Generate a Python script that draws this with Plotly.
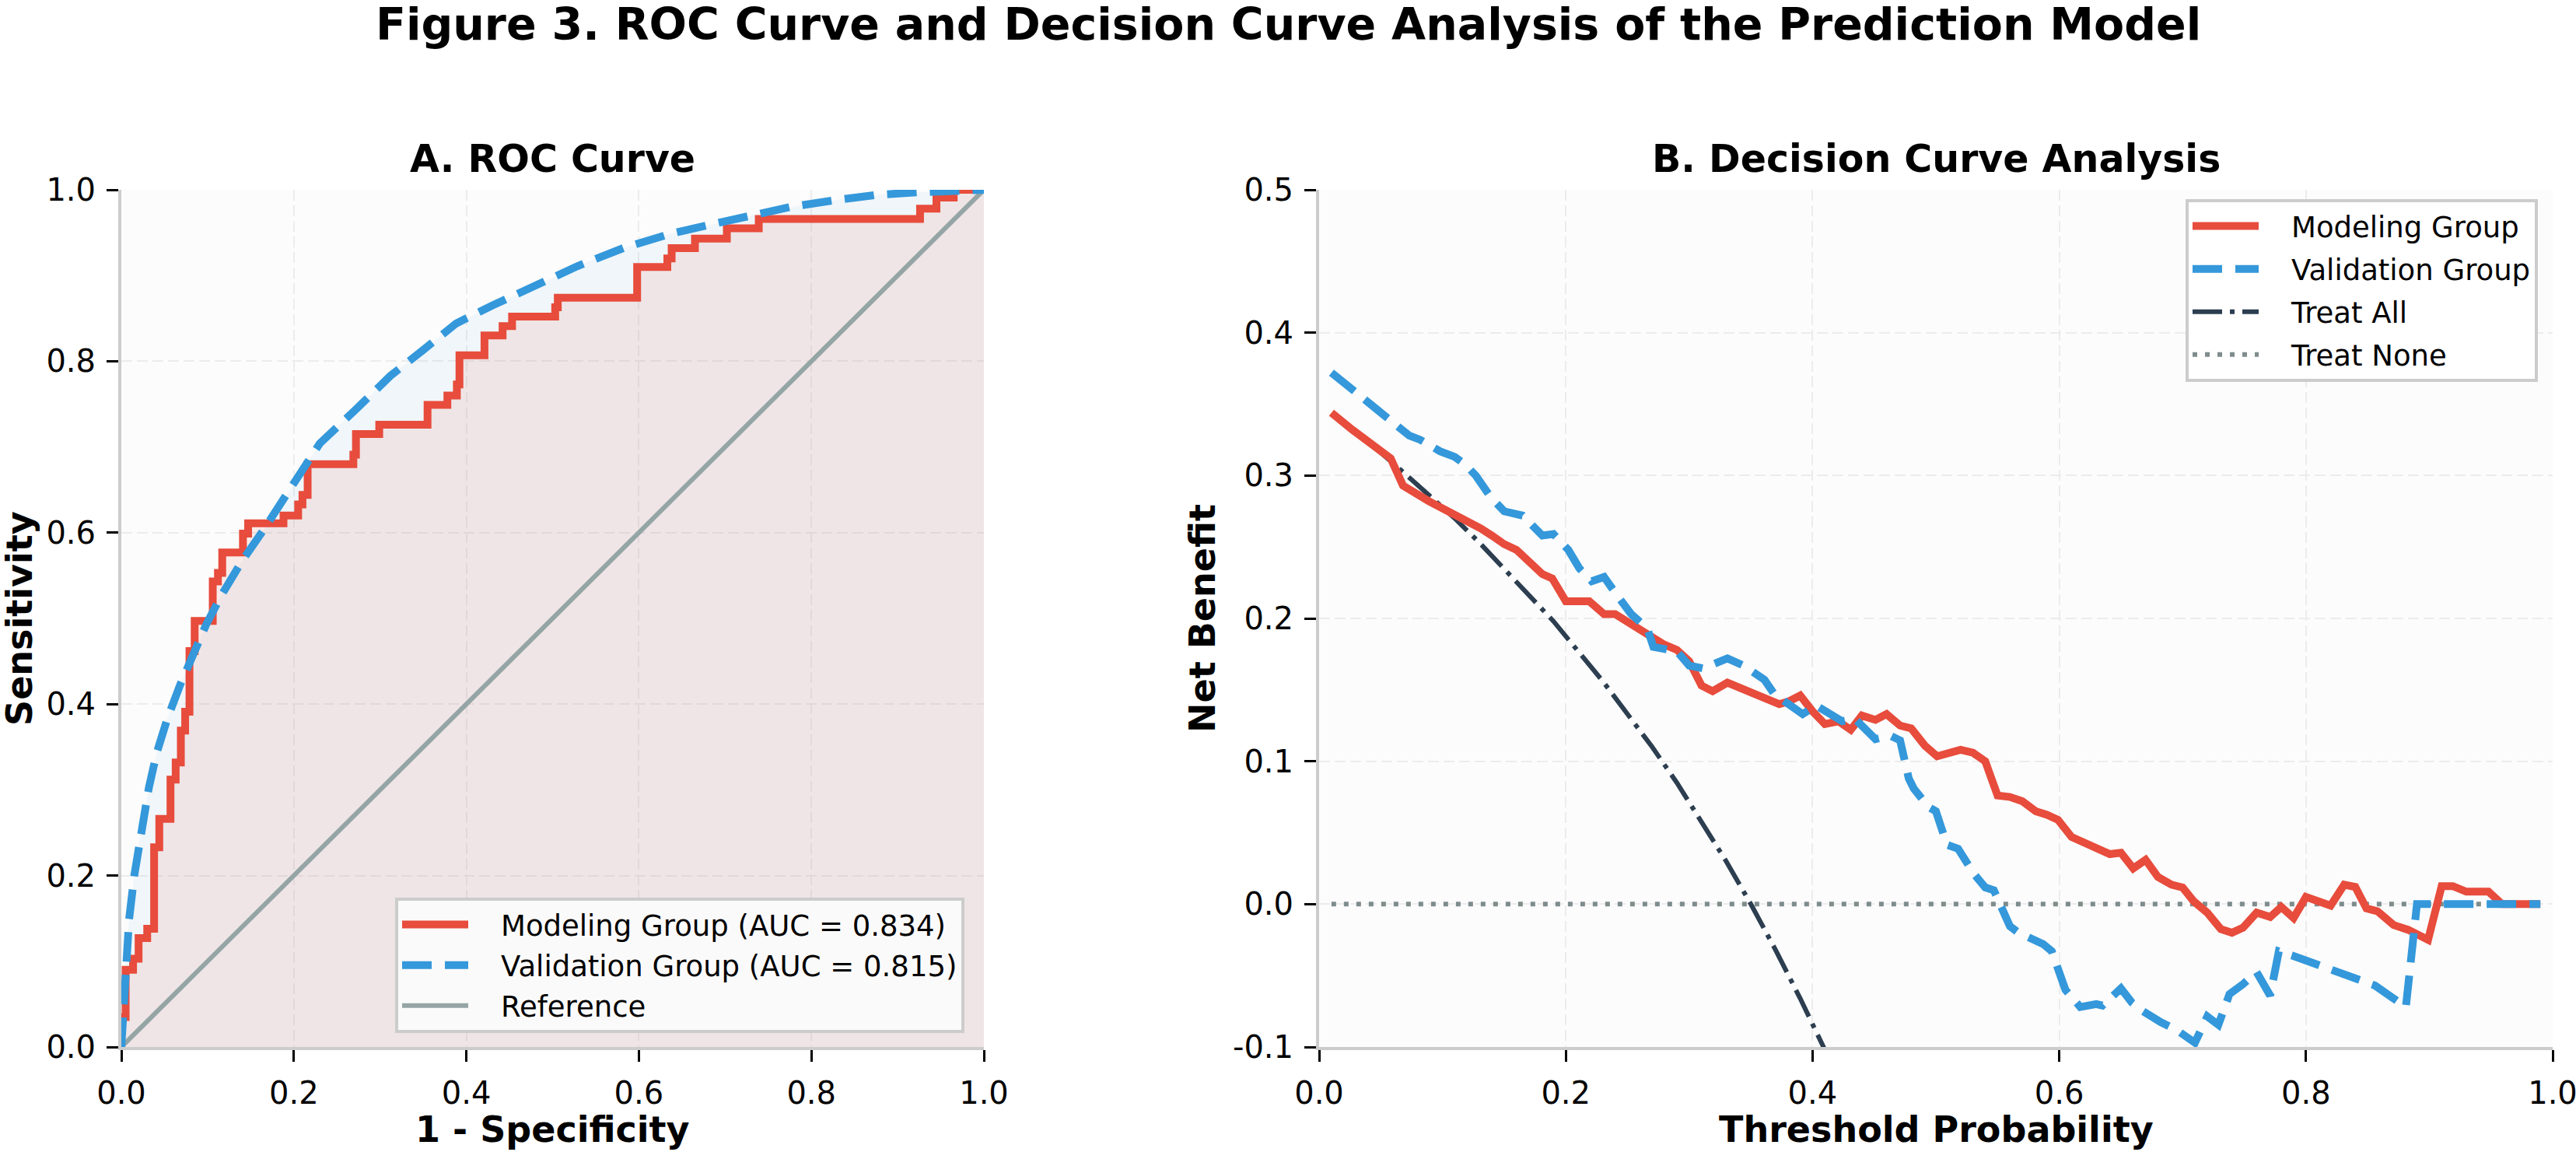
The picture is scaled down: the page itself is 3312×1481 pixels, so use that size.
import plotly.graph_objects as go

W, H = 3312, 1481

# ---- panel A: ROC curves ----
roc_model_fpr = [0, 0, 0.005, 0.0136, 0.02, 0.03, 0.038, 0.044, 0.057, 0.063,
                 0.069, 0.074, 0.079, 0.085, 0.106, 0.112, 0.117, 0.141, 0.147, 0.188,
                 0.205, 0.21, 0.216, 0.269, 0.272, 0.299, 0.355, 0.378, 0.389, 0.392,
                 0.421, 0.442, 0.453, 0.503, 0.506, 0.598, 0.633, 0.638, 0.665, 0.702,
                 0.739, 0.926, 0.945, 0.965, 1.0]
roc_model_tpr = [0, 0.035, 0.09, 0.103, 0.127, 0.138, 0.233, 0.266, 0.312, 0.332,
                 0.369, 0.391, 0.462, 0.497, 0.543, 0.553, 0.577, 0.599, 0.611, 0.62,
                 0.633, 0.644, 0.68, 0.691, 0.715, 0.726, 0.749, 0.76, 0.773, 0.807,
                 0.830, 0.841, 0.852, 0.863, 0.874, 0.910, 0.920, 0.932, 0.943, 0.955,
                 0.966, 0.978, 0.991, 1.0, 1.0]

roc_valid_fpr = [0, 0.0045, 0.009, 0.015, 0.023, 0.032, 0.041, 0.053, 0.068, 0.083,
                 0.098, 0.116, 0.140, 0.164, 0.19, 0.21, 0.23, 0.27, 0.312, 0.351,
                 0.388, 0.43, 0.477, 0.529, 0.582, 0.634, 0.681, 0.734, 0.776, 0.828,
                 0.875, 0.922, 0.975, 1.0]
roc_valid_tpr = [0, 0.092, 0.149, 0.2, 0.255, 0.303, 0.343, 0.382, 0.422, 0.457,
                 0.492, 0.527, 0.567, 0.602, 0.641, 0.672, 0.704, 0.742, 0.783, 0.814,
                 0.844, 0.865, 0.886, 0.911, 0.932, 0.948, 0.959, 0.971, 0.980, 0.988,
                 0.994, 0.997, 1.0, 1.0]

ref_x = [0, 1]
ref_y = [0, 1]

# ---- panel B: decision curves ----
dca_model_t = [0.01, 0.027, 0.058, 0.068, 0.089, 0.10, 0.118, 0.131, 0.14, 0.15,
               0.16, 0.169, 0.181, 0.189, 0.20, 0.219, 0.231, 0.24, 0.258, 0.269,
               0.279, 0.29, 0.30, 0.31, 0.319, 0.331, 0.34, 0.352, 0.361, 0.373,
               0.381, 0.39, 0.40, 0.41, 0.421, 0.431, 0.44, 0.451, 0.46, 0.471,
               0.48, 0.491, 0.501, 0.52, 0.53, 0.54, 0.55, 0.56, 0.57, 0.581,
               0.59, 0.599, 0.61, 0.628, 0.641, 0.65, 0.66, 0.67, 0.68, 0.691,
               0.70, 0.709, 0.72, 0.731, 0.74, 0.749, 0.76, 0.771, 0.78, 0.79,
               0.80, 0.82, 0.831, 0.84, 0.849, 0.858, 0.871, 0.883, 0.899, 0.91,
               0.919, 0.93, 0.948, 0.959, 0.99]
dca_model_nb = [0.344, 0.332, 0.312, 0.293, 0.282, 0.277, 0.270, 0.263, 0.258, 0.252,
                0.248, 0.240, 0.231, 0.228, 0.212, 0.212, 0.203, 0.203, 0.193, 0.187,
                0.182, 0.178, 0.170, 0.153, 0.149, 0.155, 0.152, 0.147, 0.145, 0.140,
                0.142, 0.146, 0.135, 0.126, 0.128, 0.122, 0.132, 0.129, 0.133, 0.125,
                0.123, 0.111, 0.1035, 0.108, 0.106, 0.100, 0.076, 0.075, 0.072, 0.065,
                0.0625, 0.059, 0.047, 0.040, 0.035, 0.036, 0.025, 0.031, 0.019, 0.0136,
                0.0117, 0.002, -0.006, -0.0175, -0.020, -0.0165, -0.006, -0.009, -0.002, -0.0097,
                0.005, -0.001, 0.0136, 0.012, -0.003, -0.005, -0.0146, -0.018, -0.025, 0.0126,
                0.0126, 0.0087, 0.0087, 0.0, 0.0]

dca_valid_t = [0.01, 0.027, 0.053, 0.073, 0.082, 0.098, 0.11, 0.118, 0.127, 0.139,
               0.15, 0.165, 0.181, 0.19, 0.202, 0.211, 0.221, 0.231, 0.24, 0.253,
               0.266, 0.271, 0.29, 0.30, 0.311, 0.331, 0.344, 0.361, 0.369, 0.379,
               0.392, 0.403, 0.411, 0.424, 0.434, 0.451, 0.463, 0.471, 0.478, 0.482,
               0.494, 0.50, 0.509, 0.518, 0.531, 0.54, 0.547, 0.56, 0.567, 0.587,
               0.594, 0.605, 0.617, 0.630, 0.635, 0.650, 0.659, 0.668, 0.682, 0.695,
               0.71, 0.72, 0.729, 0.738, 0.749, 0.76, 0.771, 0.778, 0.789, 0.805,
               0.82, 0.838, 0.856, 0.871, 0.881, 0.89, 0.99]
dca_valid_nb = [0.372, 0.360, 0.343, 0.328, 0.325, 0.317, 0.313, 0.308, 0.300, 0.285,
                0.275, 0.272, 0.258, 0.259, 0.248, 0.235, 0.226, 0.229, 0.218, 0.203,
                0.193, 0.180, 0.177, 0.167, 0.165, 0.172, 0.167, 0.157, 0.147, 0.141,
                0.133, 0.139, 0.135, 0.128, 0.130, 0.1155, 0.118, 0.1146, 0.088, 0.081,
                0.068, 0.065, 0.0415, 0.0388, 0.021, 0.0117, 0.0097, -0.0155, -0.020, -0.028,
                -0.033, -0.060, -0.072, -0.070, -0.071, -0.059, -0.069, -0.075, -0.0825, -0.088,
                -0.097, -0.0786, -0.0845, -0.063, -0.056, -0.0476, -0.064, -0.033, -0.036, -0.041,
                -0.0447, -0.0505, -0.057, -0.066, -0.072, 0.0, 0.0]

treat_all_t = [0.01, 0.03, 0.05, 0.07, 0.09, 0.11, 0.13, 0.15, 0.17, 0.19, 0.21,
               0.23, 0.25, 0.27, 0.29, 0.31, 0.33, 0.35, 0.37, 0.39, 0.41]
treat_all_nb = [0.343, 0.330, 0.316, 0.301, 0.286, 0.270, 0.253, 0.235, 0.217, 0.198, 0.177,
                0.156, 0.133, 0.110, 0.085, 0.058, 0.030, 0.000, -0.032, -0.066, -0.102]

treat_none_t = [0.01, 0.99]
treat_none_nb = [0.0, 0.0]

unit_ticks = [0, 0.2, 0.4, 0.6, 0.8, 1.0]
unit_tick_text = ["0.0", "0.2", "0.4", "0.6", "0.8", "1.0"]
nb_ticks = [-0.1, 0.0, 0.1, 0.2, 0.3, 0.4, 0.5]
nb_tick_text = ["-0.1", "0.0", "0.1", "0.2", "0.3", "0.4", "0.5"]

RED = "#e74c3c"
BLUE = "#3498db"
DARK = "#2c3e50"
GRAY = "#7f8c8d"
REF = "#95a5a6"
FONT = "DejaVu Sans"
GAP = "\u2003"   # room between legend line and label


def px_x(p):
    return p / W


def px_y(p):
    return 1 - p / H


fig = go.Figure()

# fills first so the lines sit on top
fig.add_trace(go.Scatter(x=roc_valid_fpr, y=roc_valid_tpr, fill="tozeroy",
                         fillcolor="rgba(52,152,219,0.06)", line=dict(width=0),
                         mode="lines", showlegend=False, hoverinfo="skip",
                         xaxis="x", yaxis="y"))
fig.add_trace(go.Scatter(x=roc_model_fpr, y=roc_model_tpr, fill="tozeroy",
                         fillcolor="rgba(231,76,60,0.10)", line=dict(width=0, shape="hv"),
                         mode="lines", showlegend=False, hoverinfo="skip",
                         xaxis="x", yaxis="y"))
fig.add_trace(go.Scatter(x=ref_x, y=ref_y, mode="lines", name=GAP + "Reference",
                         line=dict(color=REF, width=6), legend="legend", legendrank=3,
                         legendgroup="r3", xaxis="x", yaxis="y"))
fig.add_trace(go.Scatter(x=roc_model_fpr, y=roc_model_tpr, mode="lines",
                         name=GAP + "Modeling Group (AUC = 0.834)",
                         line=dict(color=RED, width=10, shape="hv"), legend="legend",
                         legendrank=1, legendgroup="r1", xaxis="x", yaxis="y"))
fig.add_trace(go.Scatter(x=roc_valid_fpr, y=roc_valid_tpr, mode="lines",
                         name=GAP + "Validation Group (AUC = 0.815)",
                         line=dict(color=BLUE, width=10, dash="38px,17px"), legend="legend",
                         legendrank=2, legendgroup="r2", xaxis="x", yaxis="y"))

fig.add_trace(go.Scatter(x=treat_all_t, y=treat_all_nb, mode="lines", name=GAP + "Treat All",
                         line=dict(color=DARK, width=6, dash="38px,10px,6px,10px"),
                         legend="legend2", legendrank=3, legendgroup="d3",
                         xaxis="x2", yaxis="y2"))
fig.add_trace(go.Scatter(x=treat_none_t, y=treat_none_nb, mode="lines", name=GAP + "Treat None",
                         line=dict(color=GRAY, width=6, dash="6px,10px"),
                         legend="legend2", legendrank=4, legendgroup="d4",
                         xaxis="x2", yaxis="y2"))
fig.add_trace(go.Scatter(x=dca_model_t, y=dca_model_nb, mode="lines", name=GAP + "Modeling Group",
                         line=dict(color=RED, width=10), legend="legend2", legendrank=1,
                         legendgroup="d1", xaxis="x2", yaxis="y2"))
fig.add_trace(go.Scatter(x=dca_valid_t, y=dca_valid_nb, mode="lines", name=GAP + "Validation Group",
                         line=dict(color=BLUE, width=10, dash="38px,17px"), legend="legend2",
                         legendrank=2, legendgroup="d2", xaxis="x2", yaxis="y2"))

axis_common = dict(
    showline=True, linecolor="#cccccc", linewidth=4, mirror=False,
    ticks="outside", ticklen=15, tickwidth=3, tickcolor="black",
    tickfont=dict(family=FONT, size=40, color="black"),
    ticklabelstandoff=6, ticklabeloverflow="allow",
    showgrid=True, gridcolor="#ececec", gridwidth=2, griddash="14px,6px",
    zeroline=False, automargin=False,
)

y_dom = [px_y(1346), px_y(244)]
fig.update_layout(
    width=W, height=H, autosize=False,
    margin=dict(l=0, r=0, t=0, b=0, autoexpand=False),
    paper_bgcolor="white", plot_bgcolor="#fcfcfc",
    font=dict(family=FONT, color="black"),
    xaxis=dict(domain=[px_x(156), px_x(1265)], range=[0, 1], anchor="y",
               tickvals=unit_ticks, ticktext=unit_tick_text, **axis_common),
    yaxis=dict(domain=y_dom, range=[0, 1], anchor="x",
               tickvals=unit_ticks, ticktext=unit_tick_text, **axis_common),
    xaxis2=dict(domain=[px_x(1696), px_x(3282)], range=[0, 1], anchor="y2",
                tickvals=unit_ticks, ticktext=unit_tick_text, **axis_common),
    yaxis2=dict(domain=y_dom, range=[-0.1, 0.5], anchor="x2",
                tickvals=nb_ticks, ticktext=nb_tick_text, **axis_common),
    legend=dict(x=px_x(1240), xanchor="right", y=px_y(1328), yanchor="bottom",
                bgcolor="rgba(252,252,252,0.92)", bordercolor="#cccccc", borderwidth=4,
                font=dict(family=FONT, size=37, color="black"), itemwidth=85,
                tracegroupgap=1),
    legend2=dict(x=px_x(3263), xanchor="right", y=px_y(256), yanchor="top",
                 bgcolor="rgba(255,255,255,0.92)", bordercolor="#cccccc", borderwidth=4,
                 font=dict(family=FONT, size=37, color="black"), itemwidth=85,
                 tracegroupgap=4),
)

bold = dict(family=FONT, color="black", weight="bold")
notes = [
    ("Figure 3. ROC Curve and Decision Curve Analysis of the Prediction Model", 1656, 31, 57, 0),
    ("A. ROC Curve", 710, 204, 49, 0),
    ("B. Decision Curve Analysis", 2489, 204, 49, 0),
    ("1 - Specificity", 710, 1452, 46, 0),
    ("Threshold Probability", 2489, 1452, 46, 0),
    ("Sensitivity", 25, 795, 46, -90),
    ("Net Benefit", 1546, 795, 46, -90),
]
for text, x, y, size, ang in notes:
    fig.add_annotation(text=text, x=px_x(x), y=px_y(y), xref="paper", yref="paper",
                       xanchor="center", yanchor="middle", showarrow=False,
                       textangle=ang, font=dict(size=size, **bold))

# the page's default body margin would shift the figure by 8px
fig.write_html("out.html", config={"displayModeBar": False},
               post_script="document.body.style.margin='0';")
